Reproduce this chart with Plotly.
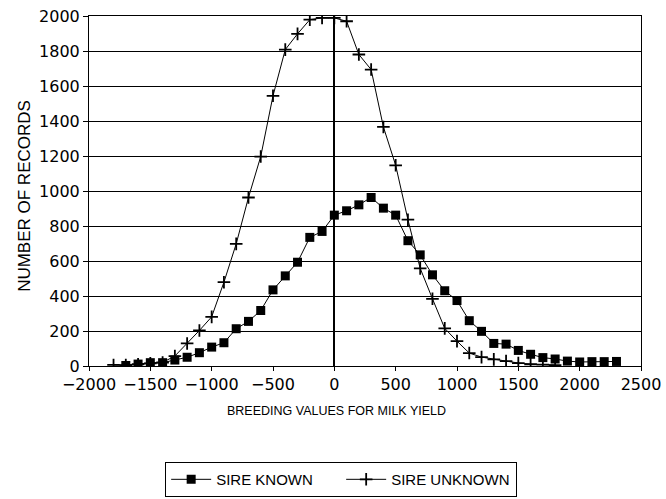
import plotly.graph_objects as go

# Breeding value classes (x) and counts
known_x = [-1700, -1600, -1500, -1400, -1300, -1200, -1100, -1000, -900, -800,
           -700, -600, -500, -400, -300, -200, -100, 0, 100, 200, 300, 400, 500,
           600, 700, 800, 900, 1000, 1100, 1200, 1300, 1400, 1500, 1600, 1700,
           1800, 1900, 2000, 2100, 2200, 2300]
known_y = [3, 11, 19, 19, 34, 50, 76, 108, 133, 213,
           255, 317, 435, 515, 593, 735, 769, 862, 887, 921, 963, 902, 862,
           716, 635, 521, 430, 374, 259, 198, 129, 125, 89, 67, 48,
           40, 28, 23, 25, 25, 26]

unknown_x = [-1800, -1700, -1600, -1500, -1400, -1300, -1200, -1100, -1000, -900,
             -800, -700, -600, -500, -400, -300, -200, -100, 0, 100, 200, 300,
             400, 500, 600, 700, 800, 900, 1000, 1100, 1200, 1300, 1400, 1500,
             1600, 1700, 1800]
unknown_y = [6, 5, 10, 15, 20, 57, 129, 203, 281, 479,
             698, 963, 1197, 1544, 1808, 1898, 1979, 1989, 1989, 1970, 1780, 1694,
             1366, 1147, 836, 558, 384, 215, 142, 74, 51, 38, 28, 17,
             10, 8, 5]

x_ticks = [-2000, -1500, -1000, -500, 0, 500, 1000, 1500, 2000, 2500]
y_ticks = [0, 200, 400, 600, 800, 1000, 1200, 1400, 1600, 1800, 2000]

fig = go.Figure()
fig.add_trace(go.Scatter(
    x=known_x, y=known_y, mode="lines+markers", name="SIRE KNOWN",
    line=dict(color="black", width=1),
    marker=dict(symbol="square", size=9, color="black"),
))
fig.add_trace(go.Scatter(
    x=unknown_x, y=unknown_y, mode="lines+markers", name="SIRE UNKNOWN",
    line=dict(color="black", width=1),
    marker=dict(symbol="cross-thin", size=9, color="black",
                line=dict(color="black", width=1.8)),
))

font_family = "DejaVu Sans, Liberation Sans, Arial, sans-serif"
sans = "Liberation Sans, Arial, sans-serif"

fig.update_layout(
    width=666, height=499,
    margin=dict(l=89, r=25, t=16, b=133),
    paper_bgcolor="white", plot_bgcolor="white",
    font=dict(family=font_family, color="black"),
    showlegend=True,
    legend=dict(
        orientation="h", xref="container", yref="container",
        x=0.248, y=0.074, xanchor="left", yanchor="top",
        bordercolor="black", borderwidth=1, bgcolor="white",
        font=dict(size=15, family=sans),
        entrywidth=120, itemwidth=40,
    ),
    xaxis=dict(
        range=[-2000, 2500], tickvals=x_ticks, automargin=False,
        showgrid=False, zeroline=True, zerolinecolor="black", zerolinewidth=1.5,
        showline=True, linecolor="black", linewidth=1, mirror=True,
        ticks="outside", ticklen=4, tickcolor="black",
        tickfont=dict(size=16, family=font_family),
    ),
    yaxis=dict(
        range=[0, 2000], tickvals=y_ticks, automargin=False,
        showgrid=True, gridcolor="black", gridwidth=1,
        zeroline=False,
        showline=True, linecolor="black", linewidth=1, mirror=True,
        ticks="outside", ticklen=5, tickcolor="black",
        tickfont=dict(size=16, family=font_family),
    ),
    annotations=[
        dict(text="BREEDING VALUES FOR MILK YIELD", xref="paper", yref="paper",
             x=0.449, y=-0.129, xanchor="center", yanchor="middle",
             showarrow=False,
             font=dict(size=12.5, family=sans)),
        dict(text="NUMBER OF RECORDS", xref="paper", yref="paper",
             x=-0.116, y=0.486, xanchor="center", yanchor="middle",
             textangle=-90, showarrow=False,
             font=dict(size=17, family=sans)),
    ],
)

fig.write_html("out.html")
